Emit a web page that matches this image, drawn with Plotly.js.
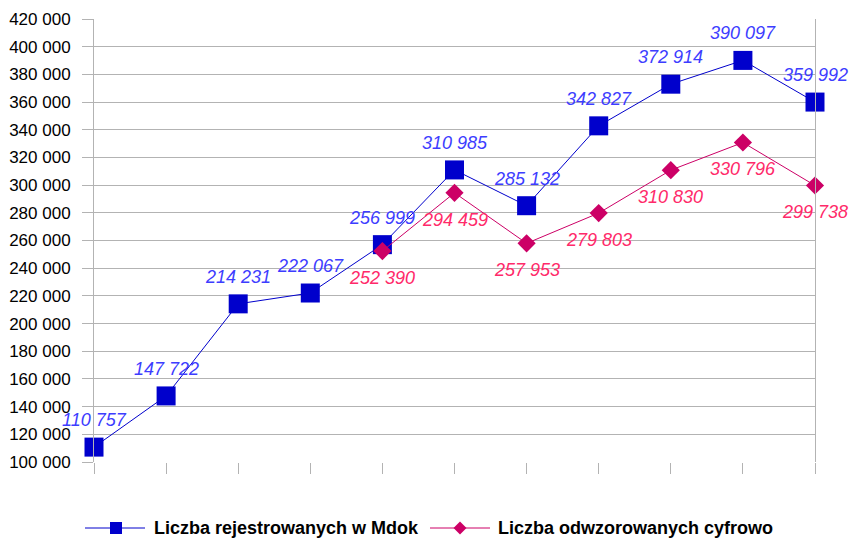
<!DOCTYPE html>
<html>
<head>
<meta charset="utf-8">
<script src="https://cdn.plot.ly/plotly-3.0.1.min.js"></script>
<style>html,body{margin:0;padding:0;background:#fff}#chart{width:849px;height:538px}</style>
</head>
<body>
<div id="chart"></div>
<script>
// ---- data ----
const categories = [0, 1, 2, 3, 4, 5, 6, 7, 8, 9, 10];
const registered = [110757, 147722, 214231, 222067, 256999, 310985, 285132, 342827, 372914, 390097, 359992];
const digitized = [null, null, null, null, 252390, 294459, 257953, 279803, 310830, 330796, 299738];
const seriesNames = ["Liczba rejestrowanych w Mdok", "Liczba odwzorowanych cyfrowo"];
const yTickVals = [100000, 120000, 140000, 160000, 180000, 200000, 220000, 240000, 260000, 280000, 300000, 320000, 340000, 360000, 380000, 400000, 420000];

const BLUE = "#0000cc", BLUE_TXT = "#3d3dff";
const PINK = "#cc0066", PINK_TXT = "#ff2a6a";
const FONT = "Liberation Sans, Arial, sans-serif";

function fmt(v) { return String(v).replace(/\B(?=(\d{3})+(?!\d))/g, " "); }

const traces = [
  {
    x: categories, y: registered, type: "scatter", mode: "lines+markers",
    name: seriesNames[0], line: {color: BLUE, width: 1},
    marker: {symbol: "square", size: 19, color: BLUE}, cliponaxis: false, showlegend: false
  },
  {
    x: categories, y: digitized, type: "scatter", mode: "lines+markers",
    name: seriesNames[1], line: {color: PINK, width: 1},
    marker: {symbol: "diamond", size: 14, color: PINK}, cliponaxis: false, showlegend: false
  }
];

const annotations = [];
categories.forEach((c, i) => {
  if (registered[i] != null) annotations.push({
    x: c, y: registered[i], xref: "x", yref: "y", text: fmt(registered[i]), showarrow: false,
    yshift: 27, font: {family: FONT, size: 18, color: BLUE_TXT, style: "italic"}
  });
  if (digitized[i] != null) annotations.push({
    x: c, y: digitized[i], xref: "x", yref: "y", text: fmt(digitized[i]), showarrow: false,
    yshift: -27, font: {family: FONT, size: 18, color: PINK_TXT, style: "italic"}
  });
});
// legend texts
annotations.push({x: 0, y: 0, xref: "paper", yref: "paper", xanchor: "left", yanchor: "middle",
  xshift: 58, yshift: -66, showarrow: false, text: "<b>" + seriesNames[0] + "</b>",
  font: {family: FONT, size: 18, color: "#000"}});
annotations.push({x: 0, y: 0, xref: "paper", yref: "paper", xanchor: "left", yanchor: "middle",
  xshift: 402, yshift: -66, showarrow: false, text: "<b>" + seriesNames[1] + "</b>",
  font: {family: FONT, size: 18, color: "#000"}});

const shapes = [
  {type: "line", xref: "paper", yref: "paper", xsizemode: "pixel", ysizemode: "pixel",
   xanchor: 0, yanchor: 0, x0: -9, x1: 51, y0: -66, y1: -66, line: {color: BLUE, width: 1}},
  {type: "rect", xref: "paper", yref: "paper", xsizemode: "pixel", ysizemode: "pixel",
   xanchor: 0, yanchor: 0, x0: 16, x1: 28, y0: -72, y1: -60, fillcolor: BLUE, line: {width: 0}},
  {type: "line", xref: "paper", yref: "paper", xsizemode: "pixel", ysizemode: "pixel",
   xanchor: 0, yanchor: 0, x0: 336, x1: 396, y0: -66, y1: -66, line: {color: PINK, width: 1}},
  {type: "path", xref: "paper", yref: "paper", xsizemode: "pixel", ysizemode: "pixel",
   xanchor: 0, yanchor: 0, path: "M 359.5 -66 L 366 -59.5 L 372.5 -66 L 366 -72.5 Z",
   fillcolor: PINK, line: {width: 0}}
];

const layout = {
  width: 849, height: 538,
  margin: {l: 94, r: 34, t: 19, b: 76},
  paper_bgcolor: "#fff", plot_bgcolor: "#fff",
  separators: ", ",
  showlegend: false,
  font: {family: FONT, size: 17, color: "#000"},
  xaxis: {
    range: [0, 10], tickvals: categories, showticklabels: false,
    ticks: "outside", ticklen: 11, tickcolor: "#b3b3b3", tickwidth: 1,
    showgrid: false, zeroline: false, showline: false, fixedrange: true
  },
  yaxis: {
    range: [100000, 420000], tickvals: yTickVals, tickformat: ",d",
    ticks: "outside", ticklen: 11, tickcolor: "#b3b3b3", tickwidth: 1,
    showgrid: true, gridcolor: "#b3b3b3", gridwidth: 1,
    showline: true, linecolor: "#b3b3b3", linewidth: 1, mirror: true,
    zeroline: false, ticklabelstandoff: 8, tickfont: {family: FONT, size: 17, color: "#000"}
  },
  annotations: annotations,
  shapes: shapes
};

Plotly.newPlot("chart", traces, layout, {displayModeBar: false, staticPlot: true});
</script>
</body>
</html>
